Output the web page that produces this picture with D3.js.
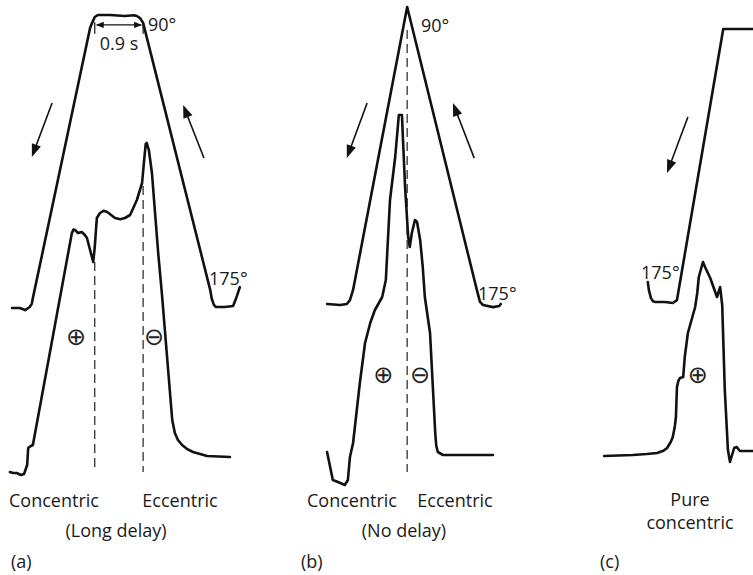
<!DOCTYPE html>
<html><head><meta charset="utf-8">
<script src="https://cdn.jsdelivr.net/npm/d3@7"></script>
<style>
html,body{margin:0;padding:0;background:#fff;}
text{font-family:"Open Sans","Noto Sans",sans-serif;fill:#1a1a1a;}
</style>
</head><body>
<script>
// ---- Data: [time (s), value] ----
// joint angle traces (degrees), torque traces (relative units, 0 = baseline)
const angleA = [[0.04,175.3],[0.19,175.3],[0.29,175.9],[0.38,175.0],[0.42,174.0],[0.44,172.4],[1.54,93.5],[1.58,92.0],[1.63,90.3],[1.69,89.7],[1.92,89.7],[2.21,90.0],[2.38,89.8],[2.44,90.0],[2.50,90.6],[2.56,92.0],[3.85,170.0],[3.88,172.6],[3.92,174.4],[3.96,175.0],[4.13,175.0],[4.29,174.7],[4.35,172.4],[4.42,169.2]];
const torqueA = [[0,0],[0.06,-0.25],[0.13,-0.25],[0.21,-0.75],[0.27,-0.5],[0.33,1.75],[0.35,6],[0.40,6.5],[0.44,6.75],[1.19,59.75],[1.22,60.6],[1.25,60.5],[1.31,59.75],[1.38,60],[1.44,59.25],[1.48,58.5],[1.54,55.5],[1.60,52.5],[1.63,56.25],[1.67,63.5],[1.73,64.75],[1.80,65.3],[1.87,65],[2.02,63.5],[2.12,63.2],[2.21,63.5],[2.31,64.25],[2.44,68],[2.54,72.25],[2.58,78],[2.61,82],[2.63,82.25],[2.67,80.5],[2.73,74.75],[2.77,68],[2.85,54.75],[2.92,44.75],[3.12,13],[3.17,9.75],[3.23,8],[3.31,6.75],[3.40,5.8],[3.52,5],[3.79,4],[4.23,3.75]];
const angleB = [[0.04,174.7],[0.29,175.0],[0.42,174.7],[0.48,173.6],[0.54,170.7],[1.58,90],[2.92,170.7],[2.98,174.1],[3.04,175.0],[3.23,175.6],[3.35,175.3],[3.38,174.7]];
const torqueB = [[0.04,5],[0.15,-2],[0.25,-2.5],[0.38,-3.25],[0.44,-2],[0.48,3.75],[0.54,7.25],[0.67,22.25],[0.77,32.25],[0.87,37.25],[0.96,40.5],[1.10,43.75],[1.17,48],[1.25,68],[1.35,78.75],[1.42,89.25],[1.48,89.25],[1.50,83],[1.54,71.25],[1.60,58.75],[1.63,56.25],[1.67,59.75],[1.73,63],[1.77,62.5],[1.83,58],[1.88,51.25],[1.92,43.75],[2.02,34.75],[2.12,9.75],[2.14,6.5],[2.17,5],[2.27,4.25],[3.23,4.25]];
const angleC = [[0.92,168.8],[0.94,171.3],[0.98,173.8],[1.02,174.8],[1.06,175.0],[1.25,175.0],[1.40,175.3],[1.48,174.4],[2.37,90],[2.94,90],[3.10,90]];
const torqueC = [[0.08,4],[0.63,4.25],[0.90,4.5],[1.10,4.75],[1.22,5.3],[1.29,6],[1.36,7.5],[1.40,8.75],[1.44,11.5],[1.46,13.75],[1.48,21.25],[1.51,22.9],[1.54,23.5],[1.60,23.75],[1.63,28.75],[1.69,34.75],[1.83,41.25],[1.87,44.75],[1.90,48.75],[1.98,52.5],[2.02,51.25],[2.12,48.5],[2.25,43.75],[2.31,46.25],[2.35,41.75],[2.40,20.5],[2.46,5.5],[2.50,2.5],[2.54,4.25],[2.58,6],[2.63,6.25],[2.69,5.25],[2.92,5.25],[3.10,5.25]];

// direction arrows in (time, angle)
const arrowsA = [[[0.81,115.4],[0.42,131.2]],[[3.73,131.5],[3.33,116.0]]];
const arrowsB = [[[0.81,117.4],[0.42,133.1]],[[2.87,133.1],[2.46,117.4]]];
const arrowsC = [[[1.69,117.4],[1.29,134.8]]];
// dashed markers: [time, top torque]
const dashesA = [[1.63,52.5],[2.56,71.5]];
const dashesB = [[1.58,110.5]];
const dashesC = [];
// sign markers: [time, torque, symbol]
const signsA = [[1.27,33.75,"⊕"],[2.77,33.75,"⊖"]];
const signsB = [[1.12,24.25,"⊕"],[1.83,24.25,"⊖"]];
const signsC = [[1.88,24.25,"⊕"]];
// plateau duration bracket (panel a)
const plateauA = [1.63, 2.56];
const plateauLabel = "0.9 s";
const angleTicks = ["90°","175°"];
const captionsA = ["Concentric","Eccentric","(Long delay)","(a)"];
const captionsB = ["Concentric","Eccentric","(No delay)","(b)"];
const captionsC = ["Pure","concentric","(c)"];

// ---- Drawing ----
const W = 753, H = 575;
const svg = d3.select("body").append("svg").attr("width",W).attr("height",H);
const torqueY = d3.scaleLinear().domain([0,100]).range([472,72]);
const PX_PER_S = 52;

const panels = [
  {x0:10,  angRange:[16,307], angle:angleA, torque:torqueA, arrows:arrowsA, dashes:dashesA, signs:signsA,
   l90:[148,31], l175:[209,285]},
  {x0:325, angRange:[7,305],  angle:angleB, torque:torqueB, arrows:arrowsB, dashes:dashesB, signs:signsB,
   l90:[421,32], l175:[478,300]},
  {x0:600, angRange:[29,302], angle:angleC, torque:torqueC, arrows:arrowsC, dashes:dashesC, signs:signsC,
   l90:null, l175:[641,279]}
];

panels.forEach(p => {
  const x = d3.scaleLinear().domain([0,1]).range([p.x0, p.x0+PX_PER_S]);
  const ya = d3.scaleLinear().domain([90,175]).range(p.angRange);
  p.x = x; p.ya = ya;
  const g = svg.append("g");
  const curve = d3.curveLinear;
  const lineA = d3.line().x(d=>x(d[0])).y(d=>ya(d[1])).curve(curve);
  const lineT = d3.line().x(d=>x(d[0])).y(d=>torqueY(d[1])).curve(curve);

  // dashed verticals
  p.dashes.forEach(d => {
    g.append("line").attr("x1",x(d[0])).attr("x2",x(d[0]))
      .attr("y1",torqueY(d[1])).attr("y2",torqueY(0))
      .attr("stroke","#222").attr("stroke-width",1.2).attr("stroke-dasharray","9,5");
  });

  g.append("path").attr("d",lineA(p.angle)).attr("fill","none")
    .attr("stroke","#111").attr("stroke-width",2.6).attr("stroke-linejoin","round").attr("stroke-linecap","round");
  g.append("path").attr("d",lineT(p.torque)).attr("fill","none")
    .attr("stroke","#111").attr("stroke-width",2.6).attr("stroke-linejoin","round").attr("stroke-linecap","round");

  // arrows
  p.arrows.forEach(a => {
    const x1=x(a[0][0]), y1=ya(a[0][1]), x2=x(a[1][0]), y2=ya(a[1][1]);
    const dx=x2-x1, dy=y2-y1, L=Math.hypot(dx,dy), ux=dx/L, uy=dy/L;
    const hl=13, hw=4.8;
    const bx=x2-ux*hl, by=y2-uy*hl;
    g.append("line").attr("x1",x1).attr("y1",y1).attr("x2",bx+ux*2).attr("y2",by+uy*2)
      .attr("stroke","#111").attr("stroke-width",1.6);
    g.append("path").attr("d",`M${x2},${y2}L${bx-uy*hw},${by+ux*hw}L${bx+uy*hw},${by-ux*hw}Z`).attr("fill","#111");
  });

  // signs
  p.signs.forEach(s => {
    g.append("text").attr("x",x(s[0])).attr("y",torqueY(s[1])).attr("text-anchor","middle")
      .attr("dominant-baseline","central").style("font-family","'DejaVu Sans'").style("font-size","24px")
      .style("fill","#222").text(s[2]);
  });

  if (p.l90) g.append("text").attr("x",p.l90[0]).attr("y",p.l90[1]).style("font-size","18px").text(angleTicks[0]);
  if (p.l175) g.append("text").attr("x",p.l175[0]).attr("y",p.l175[1]).style("font-size","18px").text(angleTicks[1]);
});

// plateau bracket in panel a
{
  const p = panels[0];
  const xa = p.x(plateauA[0]), xb = p.x(plateauA[1]), yb = p.ya(92.6);
  const g = svg.append("g");
  g.append("line").attr("x1",xa+2).attr("x2",xb-2).attr("y1",yb).attr("y2",yb).attr("stroke","#111").attr("stroke-width",1.2);
  [xa,xb].forEach((xx,i)=>{
    g.append("line").attr("x1",xx).attr("x2",xx).attr("y1",p.ya(91.8)).attr("y2",p.ya(95.2)).attr("stroke","#111").attr("stroke-width",1.2);
    const s = i===0?1:-1;
    g.append("path").attr("d",`M${xx+s*1},${yb}L${xx+s*9},${yb-3.2}L${xx+s*9},${yb+3.2}Z`).attr("fill","#111");
  });
  g.append("text").attr("x",(xa+xb)/2).attr("y",50).attr("text-anchor","middle").style("font-size","18px").text(plateauLabel);
}

// captions
const cap = (t,x,y,anchor) => svg.append("text").attr("x",x).attr("y",y).attr("text-anchor",anchor||"middle").style("font-size","18px").text(t);
cap(captionsA[0],54,507); cap(captionsA[1],180,507); cap(captionsA[2],116,537); cap(captionsA[3],11,568,"start");
cap(captionsB[0],352,507); cap(captionsB[1],455,507); cap(captionsB[2],404,537); cap(captionsB[3],301,568,"start");
{
  const t = svg.append("text").attr("text-anchor","middle").style("font-size","18px");
  t.append("tspan").attr("x",690).attr("y",506).text(captionsC[0]);
  t.append("tspan").attr("x",690).attr("y",529).text(captionsC[1]);
}
cap(captionsC[2],600,568,"start");
</script>
</body></html>
